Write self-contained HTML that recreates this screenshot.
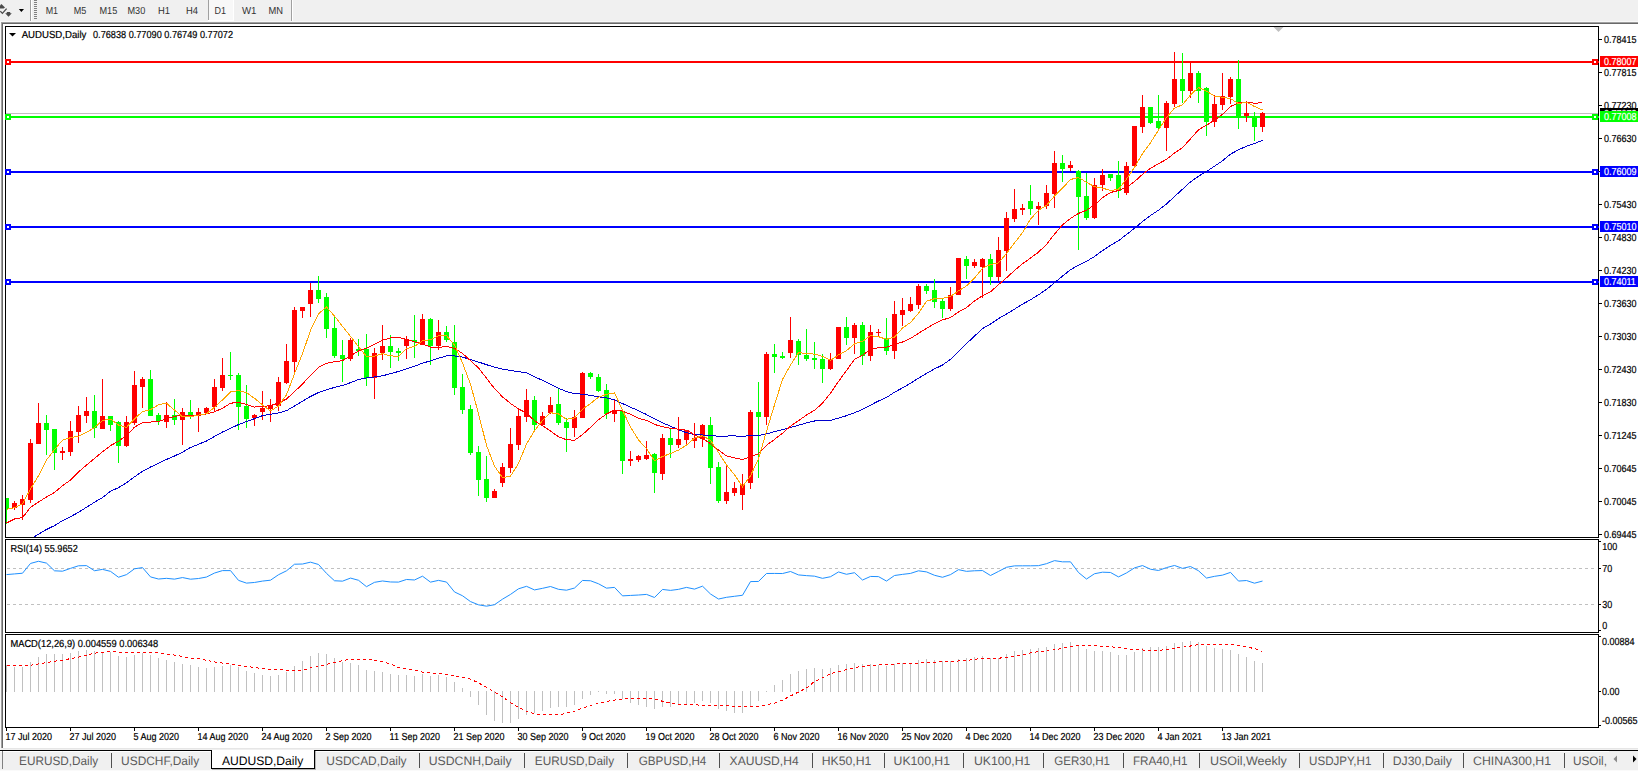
<!DOCTYPE html>
<html><head><meta charset="utf-8"><style>
html,body{margin:0;padding:0;width:1638px;height:771px;overflow:hidden;background:#f0f0f0;}
svg{position:absolute;left:0;top:0;display:block}
text{font-family:"Liberation Sans", sans-serif;text-rendering:geometricPrecision;}

</style></head><body>
<svg width="1638" height="771" viewBox="0 0 1638 771">
<rect x="0" y="0" width="1638" height="771" fill="#f0f0f0"/>
<rect x="3" y="24" width="1635" height="724" fill="#ffffff"/>
<rect x="0" y="21" width="1638" height="1" fill="#f8f8f8"/>
<rect x="1" y="22" width="1637" height="1" fill="#a0a0a0"/>
<rect x="2" y="23" width="1636" height="1" fill="#696969"/>
<rect x="0" y="22" width="1" height="749" fill="#f8f8f8"/>
<rect x="1" y="22" width="1" height="726" fill="#a0a0a0"/>
<rect x="2" y="23" width="1" height="725" fill="#696969"/>
<path d="M0,5.6 L1.4,4 L5,7.6 L3.6,8.6 L0,8.6 Z" fill="#4a4a4a"/>
<path d="M0.3,11.2 L2.4,13.4 L6.6,8.6" fill="none" stroke="#4a4a4a" stroke-width="1.3"/>
<path d="M5.2,13.2 L11.8,13.2 L8.5,16.8 Z M6.8,12 L10.2,12 L10.2,13.5 L6.8,13.5Z" fill="#4a4a4a"/>
<path d="M18.8,9 L24,9 L21.4,12 Z" fill="#000"/>
<rect x="30" y="0" width="1" height="21" fill="#a0a0a0"/>
<rect x="31" y="0" width="1" height="21" fill="#ffffff"/>
<rect x="34" y="0" width="3" height="1" fill="#808080"/>
<rect x="34" y="2" width="3" height="1" fill="#808080"/>
<rect x="34" y="4" width="3" height="1" fill="#808080"/>
<rect x="34" y="6" width="3" height="1" fill="#808080"/>
<rect x="34" y="8" width="3" height="1" fill="#808080"/>
<rect x="34" y="10" width="3" height="1" fill="#808080"/>
<rect x="34" y="12" width="3" height="1" fill="#808080"/>
<rect x="34" y="14" width="3" height="1" fill="#808080"/>
<rect x="34" y="16" width="3" height="1" fill="#808080"/>
<rect x="34" y="18" width="3" height="1" fill="#808080"/>
<rect x="209" y="0" width="24" height="20" fill="#f8f8f8"/>
<rect x="208" y="0" width="1" height="20" fill="#a0a0a0"/>
<rect x="233" y="0" width="1" height="21" fill="#ffffff"/>
<rect x="208" y="20" width="26" height="1" fill="#ffffff"/>
<rect x="291" y="0" width="1" height="21" fill="#a0a0a0"/>
<rect x="292" y="0" width="1" height="21" fill="#ffffff"/>
<text x="45.7" y="14" font-size="10.2" fill="#333" text-anchor="start" textLength="12.4" lengthAdjust="spacingAndGlyphs">M1</text>
<text x="73.8" y="14" font-size="10.2" fill="#333" text-anchor="start" textLength="12.6" lengthAdjust="spacingAndGlyphs">M5</text>
<text x="99.5" y="14" font-size="10.2" fill="#333" text-anchor="start" textLength="17.8" lengthAdjust="spacingAndGlyphs">M15</text>
<text x="127.5" y="14" font-size="10.2" fill="#333" text-anchor="start" textLength="17.8" lengthAdjust="spacingAndGlyphs">M30</text>
<text x="158" y="14" font-size="10.2" fill="#333" text-anchor="start" textLength="12" lengthAdjust="spacingAndGlyphs">H1</text>
<text x="186" y="14" font-size="10.2" fill="#333" text-anchor="start" textLength="12" lengthAdjust="spacingAndGlyphs">H4</text>
<text x="214.5" y="14" font-size="10.2" fill="#333" text-anchor="start" textLength="11.5" lengthAdjust="spacingAndGlyphs">D1</text>
<text x="242" y="14" font-size="10.2" fill="#333" text-anchor="start" textLength="14.5" lengthAdjust="spacingAndGlyphs">W1</text>
<text x="268.5" y="14" font-size="10.2" fill="#333" text-anchor="start" textLength="14.5" lengthAdjust="spacingAndGlyphs">MN</text>
<rect x="5" y="26" width="1594" height="1" fill="#000"/>
<rect x="5" y="537" width="1594" height="1" fill="#000"/>
<rect x="5" y="26" width="1" height="512" fill="#000"/>
<rect x="1598" y="26" width="1" height="512" fill="#000"/>
<rect x="5" y="539" width="1594" height="1" fill="#000"/>
<rect x="5" y="632" width="1594" height="1" fill="#000"/>
<rect x="5" y="539" width="1" height="94" fill="#000"/>
<rect x="1598" y="539" width="1" height="94" fill="#000"/>
<rect x="5" y="634" width="1594" height="1" fill="#000"/>
<rect x="5" y="727" width="1594" height="1" fill="#000"/>
<rect x="5" y="634" width="1" height="94" fill="#000"/>
<rect x="1598" y="634" width="1" height="94" fill="#000"/>
<path d="M1273.5,27 L1283.5,27 L1278.5,32 Z" fill="#c0c0c0"/>
<defs><clipPath id="cm"><rect x="6" y="27" width="1592" height="510"/></clipPath><clipPath id="cr"><rect x="6" y="540" width="1592" height="92"/></clipPath><clipPath id="cd"><rect x="6" y="635" width="1592" height="92"/></clipPath></defs>
<g clip-path="url(#cm)" shape-rendering="crispEdges">
<rect x="6" y="113" width="1592" height="1" fill="#c0c0c0"/>
<rect x="6" y="61" width="1592" height="2" fill="#ff0000"/>
<rect x="6" y="116" width="1592" height="2" fill="#00ff00"/>
<rect x="6" y="171" width="1592" height="2" fill="#0000ff"/>
<rect x="6" y="226" width="1592" height="2" fill="#0000ff"/>
<rect x="6" y="281" width="1592" height="2" fill="#0000ff"/>
<rect x="6" y="498" width="1" height="26" fill="#00ff00"/>
<rect x="4" y="498" width="5" height="11" fill="#00ff00"/>
<rect x="14" y="501" width="1" height="9" fill="#ff0000"/>
<rect x="12" y="503" width="5" height="5" fill="#ff0000"/>
<rect x="22" y="495" width="1" height="25" fill="#ff0000"/>
<rect x="20" y="499" width="5" height="6" fill="#ff0000"/>
<rect x="30" y="439" width="1" height="64" fill="#ff0000"/>
<rect x="28" y="443" width="5" height="57" fill="#ff0000"/>
<rect x="38" y="403" width="1" height="41" fill="#ff0000"/>
<rect x="36" y="423" width="5" height="21" fill="#ff0000"/>
<rect x="46" y="415" width="1" height="40" fill="#00ff00"/>
<rect x="44" y="423" width="5" height="7" fill="#00ff00"/>
<rect x="54" y="429" width="1" height="41" fill="#00ff00"/>
<rect x="52" y="429" width="5" height="24" fill="#00ff00"/>
<rect x="62" y="447" width="1" height="13" fill="#ff0000"/>
<rect x="60" y="451" width="5" height="2" fill="#ff0000"/>
<rect x="70" y="421" width="1" height="35" fill="#ff0000"/>
<rect x="68" y="431" width="5" height="21" fill="#ff0000"/>
<rect x="78" y="406" width="1" height="37" fill="#ff0000"/>
<rect x="76" y="415" width="5" height="17" fill="#ff0000"/>
<rect x="86" y="397" width="1" height="26" fill="#ff0000"/>
<rect x="84" y="411" width="5" height="5" fill="#ff0000"/>
<rect x="94" y="395" width="1" height="43" fill="#00ff00"/>
<rect x="92" y="411" width="5" height="17" fill="#00ff00"/>
<rect x="102" y="379" width="1" height="50" fill="#ff0000"/>
<rect x="100" y="416" width="5" height="13" fill="#ff0000"/>
<rect x="110" y="416" width="1" height="15" fill="#00ff00"/>
<rect x="108" y="416" width="5" height="9" fill="#00ff00"/>
<rect x="118" y="421" width="1" height="42" fill="#00ff00"/>
<rect x="116" y="422" width="5" height="24" fill="#00ff00"/>
<rect x="126" y="416" width="1" height="31" fill="#ff0000"/>
<rect x="124" y="422" width="5" height="24" fill="#ff0000"/>
<rect x="134" y="371" width="1" height="54" fill="#ff0000"/>
<rect x="132" y="385" width="5" height="38" fill="#ff0000"/>
<rect x="142" y="377" width="1" height="31" fill="#ff0000"/>
<rect x="140" y="379" width="5" height="8" fill="#ff0000"/>
<rect x="150" y="370" width="1" height="46" fill="#00ff00"/>
<rect x="148" y="379" width="5" height="37" fill="#00ff00"/>
<rect x="158" y="413" width="1" height="12" fill="#00ff00"/>
<rect x="156" y="415" width="5" height="6" fill="#00ff00"/>
<rect x="166" y="402" width="1" height="26" fill="#ff0000"/>
<rect x="164" y="415" width="5" height="7" fill="#ff0000"/>
<rect x="174" y="399" width="1" height="26" fill="#00ff00"/>
<rect x="172" y="415" width="5" height="5" fill="#00ff00"/>
<rect x="182" y="408" width="1" height="37" fill="#ff0000"/>
<rect x="180" y="412" width="5" height="8" fill="#ff0000"/>
<rect x="190" y="400" width="1" height="19" fill="#00ff00"/>
<rect x="188" y="412" width="5" height="4" fill="#00ff00"/>
<rect x="198" y="408" width="1" height="24" fill="#ff0000"/>
<rect x="196" y="412" width="5" height="4" fill="#ff0000"/>
<rect x="206" y="407" width="1" height="6" fill="#ff0000"/>
<rect x="204" y="408" width="5" height="5" fill="#ff0000"/>
<rect x="214" y="379" width="1" height="33" fill="#ff0000"/>
<rect x="212" y="387" width="5" height="20" fill="#ff0000"/>
<rect x="222" y="358" width="1" height="33" fill="#ff0000"/>
<rect x="220" y="375" width="5" height="13" fill="#ff0000"/>
<rect x="230" y="352" width="1" height="28" fill="#00ff00"/>
<rect x="228" y="375" width="5" height="1" fill="#00ff00"/>
<rect x="238" y="373" width="1" height="57" fill="#00ff00"/>
<rect x="236" y="375" width="5" height="32" fill="#00ff00"/>
<rect x="246" y="385" width="1" height="43" fill="#00ff00"/>
<rect x="244" y="406" width="5" height="13" fill="#00ff00"/>
<rect x="254" y="414" width="1" height="12" fill="#ff0000"/>
<rect x="252" y="415" width="5" height="3" fill="#ff0000"/>
<rect x="262" y="391" width="1" height="29" fill="#ff0000"/>
<rect x="260" y="408" width="5" height="4" fill="#ff0000"/>
<rect x="270" y="399" width="1" height="23" fill="#ff0000"/>
<rect x="268" y="405" width="5" height="4" fill="#ff0000"/>
<rect x="278" y="377" width="1" height="34" fill="#ff0000"/>
<rect x="276" y="382" width="5" height="24" fill="#ff0000"/>
<rect x="286" y="344" width="1" height="40" fill="#ff0000"/>
<rect x="284" y="361" width="5" height="22" fill="#ff0000"/>
<rect x="294" y="307" width="1" height="65" fill="#ff0000"/>
<rect x="292" y="310" width="5" height="52" fill="#ff0000"/>
<rect x="302" y="307" width="1" height="11" fill="#ff0000"/>
<rect x="300" y="307" width="5" height="4" fill="#ff0000"/>
<rect x="310" y="283" width="1" height="34" fill="#ff0000"/>
<rect x="308" y="290" width="5" height="14" fill="#ff0000"/>
<rect x="318" y="276" width="1" height="27" fill="#00ff00"/>
<rect x="316" y="290" width="5" height="9" fill="#00ff00"/>
<rect x="326" y="293" width="1" height="45" fill="#00ff00"/>
<rect x="324" y="297" width="5" height="32" fill="#00ff00"/>
<rect x="334" y="317" width="1" height="41" fill="#00ff00"/>
<rect x="332" y="328" width="5" height="28" fill="#00ff00"/>
<rect x="342" y="340" width="1" height="42" fill="#00ff00"/>
<rect x="340" y="355" width="5" height="4" fill="#00ff00"/>
<rect x="350" y="338" width="1" height="23" fill="#ff0000"/>
<rect x="348" y="340" width="5" height="19" fill="#ff0000"/>
<rect x="358" y="339" width="1" height="17" fill="#00ff00"/>
<rect x="356" y="349" width="5" height="2" fill="#00ff00"/>
<rect x="366" y="334" width="1" height="52" fill="#00ff00"/>
<rect x="364" y="349" width="5" height="29" fill="#00ff00"/>
<rect x="374" y="348" width="1" height="51" fill="#ff0000"/>
<rect x="372" y="353" width="5" height="25" fill="#ff0000"/>
<rect x="382" y="325" width="1" height="35" fill="#ff0000"/>
<rect x="380" y="346" width="5" height="7" fill="#ff0000"/>
<rect x="390" y="335" width="1" height="33" fill="#00ff00"/>
<rect x="388" y="346" width="5" height="6" fill="#00ff00"/>
<rect x="398" y="348" width="1" height="13" fill="#00ff00"/>
<rect x="396" y="351" width="5" height="2" fill="#00ff00"/>
<rect x="406" y="336" width="1" height="23" fill="#ff0000"/>
<rect x="404" y="339" width="5" height="7" fill="#ff0000"/>
<rect x="414" y="315" width="1" height="43" fill="#00ff00"/>
<rect x="412" y="340" width="5" height="2" fill="#00ff00"/>
<rect x="422" y="314" width="1" height="31" fill="#ff0000"/>
<rect x="420" y="319" width="5" height="26" fill="#ff0000"/>
<rect x="430" y="318" width="1" height="47" fill="#00ff00"/>
<rect x="428" y="319" width="5" height="27" fill="#00ff00"/>
<rect x="438" y="320" width="1" height="30" fill="#ff0000"/>
<rect x="436" y="332" width="5" height="14" fill="#ff0000"/>
<rect x="446" y="326" width="1" height="16" fill="#00ff00"/>
<rect x="444" y="332" width="5" height="8" fill="#00ff00"/>
<rect x="454" y="325" width="1" height="70" fill="#00ff00"/>
<rect x="452" y="342" width="5" height="46" fill="#00ff00"/>
<rect x="462" y="374" width="1" height="40" fill="#00ff00"/>
<rect x="460" y="387" width="5" height="23" fill="#00ff00"/>
<rect x="470" y="405" width="1" height="50" fill="#00ff00"/>
<rect x="468" y="409" width="5" height="44" fill="#00ff00"/>
<rect x="478" y="446" width="1" height="50" fill="#00ff00"/>
<rect x="476" y="452" width="5" height="28" fill="#00ff00"/>
<rect x="486" y="456" width="1" height="46" fill="#00ff00"/>
<rect x="484" y="479" width="5" height="19" fill="#00ff00"/>
<rect x="494" y="489" width="1" height="9" fill="#ff0000"/>
<rect x="492" y="491" width="5" height="7" fill="#ff0000"/>
<rect x="502" y="463" width="1" height="24" fill="#ff0000"/>
<rect x="500" y="467" width="5" height="16" fill="#ff0000"/>
<rect x="510" y="428" width="1" height="45" fill="#ff0000"/>
<rect x="508" y="444" width="5" height="24" fill="#ff0000"/>
<rect x="518" y="409" width="1" height="41" fill="#ff0000"/>
<rect x="516" y="416" width="5" height="29" fill="#ff0000"/>
<rect x="526" y="389" width="1" height="33" fill="#ff0000"/>
<rect x="524" y="400" width="5" height="17" fill="#ff0000"/>
<rect x="534" y="396" width="1" height="36" fill="#00ff00"/>
<rect x="532" y="400" width="5" height="25" fill="#00ff00"/>
<rect x="542" y="412" width="1" height="13" fill="#ff0000"/>
<rect x="540" y="416" width="5" height="9" fill="#ff0000"/>
<rect x="550" y="397" width="1" height="17" fill="#ff0000"/>
<rect x="548" y="405" width="5" height="8" fill="#ff0000"/>
<rect x="558" y="389" width="1" height="36" fill="#00ff00"/>
<rect x="556" y="404" width="5" height="19" fill="#00ff00"/>
<rect x="566" y="418" width="1" height="34" fill="#00ff00"/>
<rect x="564" y="422" width="5" height="6" fill="#00ff00"/>
<rect x="574" y="410" width="1" height="27" fill="#ff0000"/>
<rect x="572" y="417" width="5" height="11" fill="#ff0000"/>
<rect x="582" y="372" width="1" height="46" fill="#ff0000"/>
<rect x="580" y="373" width="5" height="45" fill="#ff0000"/>
<rect x="590" y="372" width="1" height="7" fill="#00ff00"/>
<rect x="588" y="373" width="5" height="4" fill="#00ff00"/>
<rect x="598" y="374" width="1" height="18" fill="#00ff00"/>
<rect x="596" y="377" width="5" height="14" fill="#00ff00"/>
<rect x="606" y="384" width="1" height="35" fill="#00ff00"/>
<rect x="604" y="390" width="5" height="24" fill="#00ff00"/>
<rect x="614" y="400" width="1" height="22" fill="#ff0000"/>
<rect x="612" y="410" width="5" height="4" fill="#ff0000"/>
<rect x="622" y="411" width="1" height="63" fill="#00ff00"/>
<rect x="620" y="411" width="5" height="50" fill="#00ff00"/>
<rect x="630" y="451" width="1" height="15" fill="#ff0000"/>
<rect x="628" y="459" width="5" height="2" fill="#ff0000"/>
<rect x="638" y="455" width="1" height="7" fill="#ff0000"/>
<rect x="636" y="456" width="5" height="4" fill="#ff0000"/>
<rect x="646" y="441" width="1" height="19" fill="#ff0000"/>
<rect x="644" y="455" width="5" height="4" fill="#ff0000"/>
<rect x="654" y="453" width="1" height="40" fill="#00ff00"/>
<rect x="652" y="454" width="5" height="19" fill="#00ff00"/>
<rect x="662" y="434" width="1" height="46" fill="#ff0000"/>
<rect x="660" y="438" width="5" height="36" fill="#ff0000"/>
<rect x="670" y="429" width="1" height="29" fill="#00ff00"/>
<rect x="668" y="438" width="5" height="7" fill="#00ff00"/>
<rect x="678" y="417" width="1" height="31" fill="#ff0000"/>
<rect x="676" y="439" width="5" height="6" fill="#ff0000"/>
<rect x="686" y="430" width="1" height="15" fill="#ff0000"/>
<rect x="684" y="430" width="5" height="10" fill="#ff0000"/>
<rect x="694" y="423" width="1" height="25" fill="#ff0000"/>
<rect x="692" y="438" width="5" height="3" fill="#ff0000"/>
<rect x="702" y="424" width="1" height="23" fill="#ff0000"/>
<rect x="700" y="425" width="5" height="14" fill="#ff0000"/>
<rect x="710" y="417" width="1" height="67" fill="#00ff00"/>
<rect x="708" y="425" width="5" height="43" fill="#00ff00"/>
<rect x="718" y="462" width="1" height="41" fill="#00ff00"/>
<rect x="716" y="467" width="5" height="34" fill="#00ff00"/>
<rect x="726" y="465" width="1" height="39" fill="#ff0000"/>
<rect x="724" y="492" width="5" height="9" fill="#ff0000"/>
<rect x="734" y="482" width="1" height="14" fill="#ff0000"/>
<rect x="732" y="488" width="5" height="5" fill="#ff0000"/>
<rect x="742" y="474" width="1" height="36" fill="#ff0000"/>
<rect x="740" y="484" width="5" height="11" fill="#ff0000"/>
<rect x="750" y="410" width="1" height="79" fill="#ff0000"/>
<rect x="748" y="412" width="5" height="71" fill="#ff0000"/>
<rect x="758" y="382" width="1" height="96" fill="#00ff00"/>
<rect x="756" y="412" width="5" height="5" fill="#00ff00"/>
<rect x="766" y="352" width="1" height="73" fill="#ff0000"/>
<rect x="764" y="354" width="5" height="63" fill="#ff0000"/>
<rect x="774" y="344" width="1" height="29" fill="#00ff00"/>
<rect x="772" y="354" width="5" height="3" fill="#00ff00"/>
<rect x="782" y="352" width="1" height="7" fill="#00ff00"/>
<rect x="780" y="356" width="5" height="2" fill="#00ff00"/>
<rect x="790" y="317" width="1" height="41" fill="#ff0000"/>
<rect x="788" y="340" width="5" height="13" fill="#ff0000"/>
<rect x="798" y="339" width="1" height="26" fill="#00ff00"/>
<rect x="796" y="341" width="5" height="14" fill="#00ff00"/>
<rect x="806" y="329" width="1" height="32" fill="#00ff00"/>
<rect x="804" y="355" width="5" height="4" fill="#00ff00"/>
<rect x="814" y="342" width="1" height="27" fill="#00ff00"/>
<rect x="812" y="358" width="5" height="2" fill="#00ff00"/>
<rect x="822" y="354" width="1" height="29" fill="#00ff00"/>
<rect x="820" y="359" width="5" height="10" fill="#00ff00"/>
<rect x="830" y="353" width="1" height="17" fill="#ff0000"/>
<rect x="828" y="360" width="5" height="9" fill="#ff0000"/>
<rect x="838" y="327" width="1" height="32" fill="#ff0000"/>
<rect x="836" y="327" width="5" height="32" fill="#ff0000"/>
<rect x="846" y="317" width="1" height="28" fill="#00ff00"/>
<rect x="844" y="327" width="5" height="11" fill="#00ff00"/>
<rect x="854" y="323" width="1" height="31" fill="#ff0000"/>
<rect x="852" y="325" width="5" height="13" fill="#ff0000"/>
<rect x="862" y="322" width="1" height="43" fill="#00ff00"/>
<rect x="860" y="325" width="5" height="31" fill="#00ff00"/>
<rect x="870" y="325" width="1" height="36" fill="#ff0000"/>
<rect x="868" y="332" width="5" height="24" fill="#ff0000"/>
<rect x="878" y="329" width="1" height="7" fill="#ff0000"/>
<rect x="876" y="332" width="5" height="1" fill="#ff0000"/>
<rect x="886" y="318" width="1" height="37" fill="#00ff00"/>
<rect x="884" y="338" width="5" height="13" fill="#00ff00"/>
<rect x="894" y="301" width="1" height="58" fill="#ff0000"/>
<rect x="892" y="314" width="5" height="37" fill="#ff0000"/>
<rect x="902" y="298" width="1" height="28" fill="#ff0000"/>
<rect x="900" y="310" width="5" height="5" fill="#ff0000"/>
<rect x="910" y="297" width="1" height="15" fill="#ff0000"/>
<rect x="908" y="304" width="5" height="7" fill="#ff0000"/>
<rect x="918" y="284" width="1" height="25" fill="#ff0000"/>
<rect x="916" y="286" width="5" height="19" fill="#ff0000"/>
<rect x="926" y="284" width="1" height="10" fill="#00ff00"/>
<rect x="924" y="286" width="5" height="5" fill="#00ff00"/>
<rect x="934" y="279" width="1" height="29" fill="#00ff00"/>
<rect x="932" y="290" width="5" height="12" fill="#00ff00"/>
<rect x="942" y="298" width="1" height="20" fill="#00ff00"/>
<rect x="940" y="301" width="5" height="8" fill="#00ff00"/>
<rect x="950" y="287" width="1" height="24" fill="#ff0000"/>
<rect x="948" y="295" width="5" height="14" fill="#ff0000"/>
<rect x="958" y="258" width="1" height="37" fill="#ff0000"/>
<rect x="956" y="258" width="5" height="37" fill="#ff0000"/>
<rect x="966" y="256" width="1" height="23" fill="#00ff00"/>
<rect x="964" y="259" width="5" height="7" fill="#00ff00"/>
<rect x="974" y="259" width="1" height="9" fill="#ff0000"/>
<rect x="972" y="262" width="5" height="4" fill="#ff0000"/>
<rect x="982" y="258" width="1" height="40" fill="#ff0000"/>
<rect x="980" y="259" width="5" height="8" fill="#ff0000"/>
<rect x="990" y="254" width="1" height="31" fill="#00ff00"/>
<rect x="988" y="259" width="5" height="18" fill="#00ff00"/>
<rect x="998" y="237" width="1" height="44" fill="#ff0000"/>
<rect x="996" y="250" width="5" height="27" fill="#ff0000"/>
<rect x="1006" y="212" width="1" height="59" fill="#ff0000"/>
<rect x="1004" y="218" width="5" height="33" fill="#ff0000"/>
<rect x="1014" y="189" width="1" height="33" fill="#ff0000"/>
<rect x="1012" y="209" width="5" height="10" fill="#ff0000"/>
<rect x="1022" y="204" width="1" height="11" fill="#ff0000"/>
<rect x="1020" y="208" width="5" height="2" fill="#ff0000"/>
<rect x="1030" y="185" width="1" height="30" fill="#00ff00"/>
<rect x="1028" y="201" width="5" height="8" fill="#00ff00"/>
<rect x="1038" y="202" width="1" height="23" fill="#ff0000"/>
<rect x="1036" y="206" width="5" height="3" fill="#ff0000"/>
<rect x="1046" y="185" width="1" height="24" fill="#ff0000"/>
<rect x="1044" y="193" width="5" height="13" fill="#ff0000"/>
<rect x="1054" y="151" width="1" height="57" fill="#ff0000"/>
<rect x="1052" y="163" width="5" height="31" fill="#ff0000"/>
<rect x="1062" y="155" width="1" height="27" fill="#00ff00"/>
<rect x="1060" y="163" width="5" height="6" fill="#00ff00"/>
<rect x="1070" y="161" width="1" height="10" fill="#ff0000"/>
<rect x="1068" y="165" width="5" height="3" fill="#ff0000"/>
<rect x="1078" y="170" width="1" height="80" fill="#00ff00"/>
<rect x="1076" y="171" width="5" height="26" fill="#00ff00"/>
<rect x="1086" y="173" width="1" height="47" fill="#00ff00"/>
<rect x="1084" y="196" width="5" height="22" fill="#00ff00"/>
<rect x="1094" y="178" width="1" height="41" fill="#ff0000"/>
<rect x="1092" y="185" width="5" height="33" fill="#ff0000"/>
<rect x="1102" y="169" width="1" height="22" fill="#ff0000"/>
<rect x="1100" y="175" width="5" height="10" fill="#ff0000"/>
<rect x="1110" y="174" width="1" height="7" fill="#00ff00"/>
<rect x="1108" y="174" width="5" height="4" fill="#00ff00"/>
<rect x="1118" y="161" width="1" height="37" fill="#00ff00"/>
<rect x="1116" y="175" width="5" height="16" fill="#00ff00"/>
<rect x="1126" y="162" width="1" height="33" fill="#ff0000"/>
<rect x="1124" y="166" width="5" height="27" fill="#ff0000"/>
<rect x="1134" y="126" width="1" height="42" fill="#ff0000"/>
<rect x="1132" y="126" width="5" height="40" fill="#ff0000"/>
<rect x="1142" y="95" width="1" height="38" fill="#ff0000"/>
<rect x="1140" y="107" width="5" height="20" fill="#ff0000"/>
<rect x="1150" y="107" width="1" height="17" fill="#00ff00"/>
<rect x="1148" y="107" width="5" height="16" fill="#00ff00"/>
<rect x="1158" y="95" width="1" height="34" fill="#00ff00"/>
<rect x="1156" y="121" width="5" height="7" fill="#00ff00"/>
<rect x="1166" y="101" width="1" height="50" fill="#ff0000"/>
<rect x="1164" y="103" width="5" height="25" fill="#ff0000"/>
<rect x="1174" y="52" width="1" height="55" fill="#ff0000"/>
<rect x="1172" y="79" width="5" height="25" fill="#ff0000"/>
<rect x="1182" y="53" width="1" height="50" fill="#00ff00"/>
<rect x="1180" y="79" width="5" height="12" fill="#00ff00"/>
<rect x="1190" y="62" width="1" height="36" fill="#ff0000"/>
<rect x="1188" y="73" width="5" height="18" fill="#ff0000"/>
<rect x="1198" y="71" width="1" height="32" fill="#00ff00"/>
<rect x="1196" y="73" width="5" height="18" fill="#00ff00"/>
<rect x="1206" y="87" width="1" height="49" fill="#00ff00"/>
<rect x="1204" y="88" width="5" height="34" fill="#00ff00"/>
<rect x="1214" y="95" width="1" height="32" fill="#ff0000"/>
<rect x="1212" y="104" width="5" height="18" fill="#ff0000"/>
<rect x="1222" y="73" width="1" height="37" fill="#ff0000"/>
<rect x="1220" y="96" width="5" height="9" fill="#ff0000"/>
<rect x="1230" y="77" width="1" height="27" fill="#ff0000"/>
<rect x="1228" y="79" width="5" height="18" fill="#ff0000"/>
<rect x="1238" y="60" width="1" height="69" fill="#00ff00"/>
<rect x="1236" y="79" width="5" height="38" fill="#00ff00"/>
<rect x="1246" y="102" width="1" height="20" fill="#ff0000"/>
<rect x="1244" y="113" width="5" height="3" fill="#ff0000"/>
<rect x="1254" y="112" width="1" height="29" fill="#00ff00"/>
<rect x="1252" y="116" width="5" height="11" fill="#00ff00"/>
<rect x="1262" y="112" width="1" height="20" fill="#ff0000"/>
<rect x="1260" y="113" width="5" height="14" fill="#ff0000"/>
<polyline points="34.5,536.60 38.5,534.23 46.5,529.50 54.5,525.60 62.5,520.70 70.5,516.64 78.5,512.36 86.5,507.27 94.5,502.22 102.5,497.54 110.5,491.29 118.5,487.62 126.5,482.86 134.5,476.87 142.5,471.21 150.5,467.06 158.5,463.36 166.5,459.40 174.5,455.97 182.5,452.22 190.5,447.50 198.5,444.25 206.5,441.00 214.5,436.50 222.5,432.00 230.5,428.30 238.5,424.57 246.5,421.57 254.5,418.63 262.5,415.60 270.5,414.33 278.5,412.97 286.5,410.70 294.5,405.97 302.5,401.17 310.5,396.47 318.5,392.57 326.5,389.80 334.5,387.40 342.5,385.47 350.5,382.67 358.5,379.50 366.5,378.00 374.5,376.93 382.5,375.83 390.5,373.70 398.5,371.43 406.5,368.90 414.5,366.30 422.5,363.20 430.5,360.87 438.5,358.20 446.5,355.90 454.5,355.90 462.5,357.03 470.5,359.60 478.5,362.03 486.5,364.67 494.5,367.20 502.5,369.17 510.5,370.47 518.5,371.60 526.5,372.90 534.5,376.70 542.5,380.33 550.5,384.17 558.5,388.30 566.5,391.60 574.5,393.67 582.5,394.17 590.5,395.37 598.5,396.70 606.5,397.90 614.5,399.80 622.5,403.60 630.5,407.20 638.5,410.67 646.5,414.53 654.5,418.90 662.5,422.87 670.5,426.17 678.5,429.73 686.5,432.77 694.5,434.47 702.5,435.00 710.5,435.50 718.5,436.20 726.5,436.03 734.5,435.93 742.5,436.50 750.5,435.43 758.5,435.43 766.5,433.90 774.5,431.63 782.5,429.67 790.5,427.50 798.5,425.23 806.5,422.93 814.5,421.00 822.5,420.83 830.5,420.30 838.5,418.20 846.5,415.67 854.5,412.83 862.5,409.33 870.5,405.10 878.5,400.97 886.5,397.47 894.5,392.20 902.5,387.93 910.5,383.27 918.5,378.17 926.5,373.50 934.5,368.93 942.5,365.03 950.5,359.30 958.5,351.23 966.5,343.67 974.5,336.13 982.5,328.63 990.5,324.10 998.5,318.57 1006.5,314.03 1014.5,309.13 1022.5,304.17 1030.5,299.77 1038.5,294.83 1046.5,289.33 1054.5,282.80 1062.5,276.13 1070.5,269.63 1078.5,265.27 1086.5,261.27 1094.5,256.60 1102.5,250.60 1110.5,245.43 1118.5,240.70 1126.5,234.57 1134.5,228.30 1142.5,221.53 1150.5,215.47 1158.5,210.17 1166.5,203.93 1174.5,196.53 1182.5,189.27 1190.5,181.87 1198.5,176.27 1206.5,171.47 1214.5,166.20 1222.5,160.77 1230.5,154.20 1238.5,149.73 1246.5,146.23 1254.5,143.47 1262.5,140.30" fill="none" stroke="#0000cd" stroke-width="1"/>
<polyline points="6.5,523.00 14.5,519.00 22.5,517.60 30.5,507.40 38.5,502.00 46.5,497.00 54.5,492.50 62.5,485.79 70.5,480.00 78.5,472.00 86.5,465.10 94.5,458.38 102.5,451.85 110.5,445.64 118.5,441.14 126.5,435.36 134.5,427.21 142.5,422.64 150.5,422.07 158.5,421.43 166.5,418.79 174.5,416.50 182.5,415.14 190.5,415.14 198.5,415.21 206.5,413.86 214.5,411.79 222.5,408.29 230.5,403.29 238.5,402.14 246.5,404.50 254.5,407.07 262.5,406.57 270.5,405.50 278.5,403.14 286.5,399.00 294.5,391.71 302.5,384.00 310.5,375.29 318.5,367.43 326.5,363.21 334.5,361.79 342.5,360.57 350.5,355.86 358.5,351.00 366.5,348.29 374.5,344.36 382.5,340.14 390.5,337.93 398.5,337.29 406.5,339.36 414.5,341.79 422.5,343.86 430.5,347.21 438.5,347.50 446.5,346.36 454.5,348.43 462.5,353.36 470.5,360.64 478.5,367.93 486.5,378.21 494.5,388.57 502.5,396.86 510.5,403.43 518.5,408.93 526.5,413.14 534.5,420.64 542.5,425.71 550.5,430.93 558.5,436.86 566.5,439.71 574.5,440.29 582.5,434.64 590.5,427.29 598.5,419.64 606.5,414.07 614.5,410.00 622.5,411.14 630.5,414.21 638.5,418.21 646.5,420.43 654.5,424.43 662.5,426.79 670.5,428.36 678.5,429.21 686.5,430.14 694.5,434.79 702.5,438.29 710.5,443.79 718.5,450.00 726.5,455.86 734.5,457.86 742.5,459.64 750.5,456.50 758.5,453.71 766.5,445.29 774.5,439.43 782.5,433.21 790.5,426.14 798.5,420.71 806.5,415.00 814.5,410.29 822.5,403.21 830.5,393.21 838.5,381.43 846.5,370.64 854.5,359.29 862.5,355.21 870.5,349.21 878.5,347.64 886.5,347.21 894.5,344.14 902.5,342.00 910.5,338.43 918.5,333.29 926.5,328.36 934.5,323.57 942.5,319.86 950.5,317.57 958.5,311.93 966.5,307.64 974.5,301.00 982.5,295.79 990.5,291.79 998.5,284.64 1006.5,277.79 1014.5,270.57 1022.5,263.71 1030.5,258.14 1038.5,252.14 1046.5,244.43 1054.5,234.07 1062.5,225.00 1070.5,218.36 1078.5,213.43 1086.5,210.21 1094.5,204.93 1102.5,197.71 1110.5,192.50 1118.5,190.50 1126.5,187.43 1134.5,181.57 1142.5,174.36 1150.5,168.36 1158.5,163.64 1166.5,159.36 1174.5,153.00 1182.5,147.64 1190.5,138.86 1198.5,129.79 1206.5,125.21 1214.5,120.14 1222.5,114.36 1230.5,106.43 1238.5,102.86 1246.5,101.93 1254.5,103.29 1262.5,102.64" fill="none" stroke="#ff0000" stroke-width="1"/>
<polyline points="6.5,509.40 14.5,507.70 22.5,503.60 30.5,489.00 38.5,475.70 46.5,459.90 54.5,449.70 62.5,440.10 70.5,437.70 78.5,436.10 86.5,432.50 94.5,427.50 102.5,420.50 110.5,419.10 118.5,425.10 126.5,427.30 134.5,418.90 142.5,411.50 150.5,409.70 158.5,404.70 166.5,403.30 174.5,410.10 182.5,416.70 190.5,416.70 198.5,415.10 206.5,413.70 214.5,407.30 222.5,399.90 230.5,391.90 238.5,390.70 246.5,392.70 254.5,398.30 262.5,404.90 270.5,410.90 278.5,406.10 286.5,394.70 294.5,373.70 302.5,353.50 310.5,330.50 318.5,313.70 326.5,307.10 334.5,316.10 342.5,326.30 350.5,336.30 358.5,346.70 366.5,356.50 374.5,356.10 382.5,353.70 390.5,355.90 398.5,356.30 406.5,348.70 414.5,346.30 422.5,340.90 430.5,339.70 438.5,335.70 446.5,335.70 454.5,344.90 462.5,362.90 470.5,384.30 478.5,413.70 486.5,445.30 494.5,466.10 502.5,477.70 510.5,476.10 518.5,463.50 526.5,444.10 534.5,430.70 542.5,420.50 550.5,412.70 558.5,413.90 566.5,419.30 574.5,417.90 582.5,409.30 590.5,403.50 598.5,397.10 606.5,394.30 614.5,392.90 622.5,410.30 630.5,426.90 638.5,440.10 646.5,448.50 654.5,460.90 662.5,456.50 670.5,453.50 678.5,450.10 686.5,445.10 694.5,438.30 702.5,435.70 710.5,440.30 718.5,452.50 726.5,464.90 734.5,474.90 742.5,486.70 750.5,475.70 758.5,458.90 766.5,431.30 774.5,404.90 782.5,379.50 790.5,365.10 798.5,352.70 806.5,353.50 814.5,354.10 822.5,356.30 830.5,360.30 838.5,354.90 846.5,350.70 854.5,343.90 862.5,341.30 870.5,335.70 878.5,336.70 886.5,339.30 894.5,337.10 902.5,328.10 910.5,322.50 918.5,313.30 926.5,301.30 934.5,298.70 942.5,298.30 950.5,296.50 958.5,290.90 966.5,285.90 974.5,278.10 982.5,268.30 990.5,264.50 998.5,262.90 1006.5,253.50 1014.5,242.90 1022.5,232.70 1030.5,219.10 1038.5,210.30 1046.5,205.30 1054.5,196.10 1062.5,188.10 1070.5,179.50 1078.5,177.50 1086.5,182.30 1094.5,186.70 1102.5,188.10 1110.5,190.50 1118.5,189.30 1126.5,179.10 1134.5,167.30 1142.5,153.70 1150.5,142.70 1158.5,130.10 1166.5,117.50 1174.5,108.10 1182.5,104.70 1190.5,94.90 1198.5,87.50 1206.5,91.10 1214.5,96.10 1222.5,97.30 1230.5,98.50 1238.5,103.70 1246.5,102.10 1254.5,106.50 1262.5,109.90" fill="none" stroke="#ffa500" stroke-width="1"/>
</g>
<rect x="5" y="59" width="6" height="6" fill="#ff0000"/>
<rect x="7" y="61" width="2" height="2" fill="#ffffff"/>
<rect x="1592" y="59" width="6" height="6" fill="#ff0000"/>
<rect x="1594" y="61" width="2" height="2" fill="#ffffff"/>
<rect x="1598" y="61" width="1" height="2" fill="#ff0000"/>
<rect x="5" y="114" width="6" height="6" fill="#00ff00"/>
<rect x="7" y="116" width="2" height="2" fill="#ffffff"/>
<rect x="1592" y="114" width="6" height="6" fill="#00ff00"/>
<rect x="1594" y="116" width="2" height="2" fill="#ffffff"/>
<rect x="1598" y="116" width="1" height="2" fill="#00ff00"/>
<rect x="5" y="169" width="6" height="6" fill="#0000ff"/>
<rect x="7" y="171" width="2" height="2" fill="#ffffff"/>
<rect x="1592" y="169" width="6" height="6" fill="#0000ff"/>
<rect x="1594" y="171" width="2" height="2" fill="#ffffff"/>
<rect x="1598" y="171" width="1" height="2" fill="#0000ff"/>
<rect x="5" y="224" width="6" height="6" fill="#0000ff"/>
<rect x="7" y="226" width="2" height="2" fill="#ffffff"/>
<rect x="1592" y="224" width="6" height="6" fill="#0000ff"/>
<rect x="1594" y="226" width="2" height="2" fill="#ffffff"/>
<rect x="1598" y="226" width="1" height="2" fill="#0000ff"/>
<rect x="5" y="279" width="6" height="6" fill="#0000ff"/>
<rect x="7" y="281" width="2" height="2" fill="#ffffff"/>
<rect x="1592" y="279" width="6" height="6" fill="#0000ff"/>
<rect x="1594" y="281" width="2" height="2" fill="#ffffff"/>
<rect x="1598" y="281" width="1" height="2" fill="#0000ff"/>
<path d="M9,33 L16,33 L12.5,36.5 Z" fill="#000"/>
<text x="21.7" y="38" font-size="10.2" fill="#000" text-anchor="start" textLength="64.7" lengthAdjust="spacingAndGlyphs" stroke="#000" stroke-width="0.2">AUDUSD,Daily</text>
<text x="93" y="38" font-size="10.2" fill="#000" text-anchor="start" textLength="140" lengthAdjust="spacingAndGlyphs" stroke="#000" stroke-width="0.2">0.76838 0.77090 0.76749 0.77072</text>
<rect x="1599" y="39" width="3" height="1" fill="#000"/>
<text x="1604" y="43" font-size="10.2" fill="#000" text-anchor="start" textLength="32.53" lengthAdjust="spacingAndGlyphs" stroke="#000" stroke-width="0.2">0.78415</text>
<rect x="1599" y="72" width="3" height="1" fill="#000"/>
<text x="1604" y="76" font-size="10.2" fill="#000" text-anchor="start" textLength="32.53" lengthAdjust="spacingAndGlyphs" stroke="#000" stroke-width="0.2">0.77815</text>
<rect x="1599" y="105" width="3" height="1" fill="#000"/>
<text x="1604" y="109" font-size="10.2" fill="#000" text-anchor="start" textLength="32.53" lengthAdjust="spacingAndGlyphs" stroke="#000" stroke-width="0.2">0.77230</text>
<rect x="1599" y="138" width="3" height="1" fill="#000"/>
<text x="1604" y="142" font-size="10.2" fill="#000" text-anchor="start" textLength="32.53" lengthAdjust="spacingAndGlyphs" stroke="#000" stroke-width="0.2">0.76630</text>
<rect x="1599" y="171" width="3" height="1" fill="#000"/>
<text x="1604" y="175" font-size="10.2" fill="#000" text-anchor="start" textLength="32.53" lengthAdjust="spacingAndGlyphs" stroke="#000" stroke-width="0.2">0.76030</text>
<rect x="1599" y="204" width="3" height="1" fill="#000"/>
<text x="1604" y="208" font-size="10.2" fill="#000" text-anchor="start" textLength="32.53" lengthAdjust="spacingAndGlyphs" stroke="#000" stroke-width="0.2">0.75430</text>
<rect x="1599" y="237" width="3" height="1" fill="#000"/>
<text x="1604" y="241" font-size="10.2" fill="#000" text-anchor="start" textLength="32.53" lengthAdjust="spacingAndGlyphs" stroke="#000" stroke-width="0.2">0.74830</text>
<rect x="1599" y="270" width="3" height="1" fill="#000"/>
<text x="1604" y="274" font-size="10.2" fill="#000" text-anchor="start" textLength="32.53" lengthAdjust="spacingAndGlyphs" stroke="#000" stroke-width="0.2">0.74230</text>
<rect x="1599" y="303" width="3" height="1" fill="#000"/>
<text x="1604" y="307" font-size="10.2" fill="#000" text-anchor="start" textLength="32.53" lengthAdjust="spacingAndGlyphs" stroke="#000" stroke-width="0.2">0.73630</text>
<rect x="1599" y="336" width="3" height="1" fill="#000"/>
<text x="1604" y="340" font-size="10.2" fill="#000" text-anchor="start" textLength="32.53" lengthAdjust="spacingAndGlyphs" stroke="#000" stroke-width="0.2">0.73030</text>
<rect x="1599" y="369" width="3" height="1" fill="#000"/>
<text x="1604" y="373" font-size="10.2" fill="#000" text-anchor="start" textLength="32.53" lengthAdjust="spacingAndGlyphs" stroke="#000" stroke-width="0.2">0.72430</text>
<rect x="1599" y="402" width="3" height="1" fill="#000"/>
<text x="1604" y="406" font-size="10.2" fill="#000" text-anchor="start" textLength="32.53" lengthAdjust="spacingAndGlyphs" stroke="#000" stroke-width="0.2">0.71830</text>
<rect x="1599" y="435" width="3" height="1" fill="#000"/>
<text x="1604" y="439" font-size="10.2" fill="#000" text-anchor="start" textLength="32.53" lengthAdjust="spacingAndGlyphs" stroke="#000" stroke-width="0.2">0.71245</text>
<rect x="1599" y="468" width="3" height="1" fill="#000"/>
<text x="1604" y="472" font-size="10.2" fill="#000" text-anchor="start" textLength="32.53" lengthAdjust="spacingAndGlyphs" stroke="#000" stroke-width="0.2">0.70645</text>
<rect x="1599" y="501" width="3" height="1" fill="#000"/>
<text x="1604" y="505" font-size="10.2" fill="#000" text-anchor="start" textLength="32.53" lengthAdjust="spacingAndGlyphs" stroke="#000" stroke-width="0.2">0.70045</text>
<rect x="1599" y="534" width="3" height="1" fill="#000"/>
<text x="1604" y="538" font-size="10.2" fill="#000" text-anchor="start" textLength="32.53" lengthAdjust="spacingAndGlyphs" stroke="#000" stroke-width="0.2">0.69445</text>
<rect x="1600" y="108" width="38" height="11" fill="#000000"/>
<text x="1604" y="117" font-size="10.2" fill="#ffffff" text-anchor="start" textLength="32.53" lengthAdjust="spacingAndGlyphs" stroke="#ffffff" stroke-width="0.2">0.77072</text>
<rect x="1600" y="56" width="38" height="11" fill="#ff0000"/>
<text x="1604" y="65" font-size="10.2" fill="#ffffff" text-anchor="start" textLength="32.53" lengthAdjust="spacingAndGlyphs" stroke="#ffffff" stroke-width="0.2">0.78007</text>
<rect x="1600" y="111" width="38" height="11" fill="#00ff00"/>
<text x="1604" y="120" font-size="10.2" fill="#ffffff" text-anchor="start" textLength="32.53" lengthAdjust="spacingAndGlyphs" stroke="#ffffff" stroke-width="0.2">0.77008</text>
<rect x="1600" y="166" width="38" height="11" fill="#0000ff"/>
<text x="1604" y="175" font-size="10.2" fill="#ffffff" text-anchor="start" textLength="32.53" lengthAdjust="spacingAndGlyphs" stroke="#ffffff" stroke-width="0.2">0.76009</text>
<rect x="1600" y="221" width="38" height="11" fill="#0000ff"/>
<text x="1604" y="230" font-size="10.2" fill="#ffffff" text-anchor="start" textLength="32.53" lengthAdjust="spacingAndGlyphs" stroke="#ffffff" stroke-width="0.2">0.75010</text>
<rect x="1600" y="276" width="38" height="11" fill="#0000ff"/>
<text x="1604" y="285" font-size="10.2" fill="#ffffff" text-anchor="start" textLength="31.86" lengthAdjust="spacingAndGlyphs" stroke="#ffffff" stroke-width="0.2">0.74011</text>
<g clip-path="url(#cr)">
<line x1="7" y1="568.5" x2="1597" y2="568.5" stroke="#c0c0c0" stroke-width="1" stroke-dasharray="3,3" shape-rendering="crispEdges"/>
<line x1="7" y1="604.5" x2="1597" y2="604.5" stroke="#c0c0c0" stroke-width="1" stroke-dasharray="3,3" shape-rendering="crispEdges"/>
<polyline points="6.5,574.60 14.5,573.91 22.5,573.22 30.5,563.45 38.5,561.27 46.5,563.12 54.5,570.80 62.5,571.20 70.5,568.39 78.5,565.79 86.5,565.60 94.5,570.72 102.5,569.38 110.5,571.35 118.5,577.24 126.5,574.62 134.5,568.80 142.5,567.60 150.5,576.90 158.5,579.03 166.5,578.33 174.5,579.14 182.5,577.56 190.5,579.19 198.5,578.51 206.5,577.04 214.5,573.04 222.5,570.60 230.5,570.60 238.5,580.36 246.5,583.11 254.5,582.46 262.5,581.09 270.5,580.20 278.5,574.74 286.5,570.81 294.5,564.22 302.5,564.02 310.5,562.16 318.5,564.47 326.5,573.38 334.5,580.75 342.5,581.15 350.5,578.08 358.5,580.27 366.5,586.68 374.5,582.32 382.5,580.98 390.5,581.98 398.5,582.10 406.5,579.48 414.5,579.98 422.5,576.18 430.5,582.13 438.5,580.37 446.5,582.05 454.5,591.94 462.5,595.75 470.5,601.59 478.5,604.82 486.5,606.16 494.5,604.71 502.5,599.16 510.5,594.41 518.5,588.80 526.5,586.32 534.5,589.92 542.5,588.33 550.5,586.50 558.5,589.30 566.5,590.19 574.5,588.04 582.5,580.46 590.5,580.76 598.5,583.78 606.5,588.15 614.5,587.38 622.5,595.86 630.5,595.43 638.5,595.02 646.5,594.40 654.5,597.48 662.5,589.45 670.5,590.38 678.5,589.35 686.5,587.40 694.5,589.12 702.5,586.17 710.5,594.00 718.5,599.02 726.5,597.31 734.5,596.29 742.5,595.27 750.5,581.58 758.5,581.44 766.5,573.49 774.5,573.43 782.5,573.54 790.5,571.50 798.5,574.91 806.5,575.63 814.5,576.17 822.5,578.34 830.5,576.73 838.5,571.96 846.5,574.29 854.5,572.71 862.5,580.03 870.5,576.44 878.5,576.62 886.5,581.05 894.5,575.50 902.5,574.37 910.5,573.42 918.5,570.80 926.5,571.90 934.5,575.29 942.5,577.27 950.5,574.61 958.5,569.66 966.5,571.35 974.5,570.78 982.5,570.55 990.5,575.51 998.5,571.43 1006.5,567.28 1014.5,565.87 1022.5,565.81 1030.5,565.81 1038.5,565.67 1046.5,563.68 1054.5,560.63 1062.5,561.84 1070.5,561.82 1078.5,572.52 1086.5,579.04 1094.5,573.74 1102.5,572.19 1110.5,572.48 1118.5,576.90 1126.5,572.93 1134.5,567.88 1142.5,565.55 1150.5,569.23 1158.5,570.48 1166.5,567.58 1174.5,565.47 1182.5,568.38 1190.5,566.53 1198.5,570.75 1206.5,578.05 1214.5,576.33 1222.5,575.13 1230.5,572.39 1238.5,581.07 1246.5,580.53 1254.5,583.19 1262.5,581.06" fill="none" stroke="#1e90ff" stroke-width="1"/>
</g>
<text x="10.4" y="552" font-size="10.2" fill="#000" text-anchor="start" textLength="67.4" lengthAdjust="spacingAndGlyphs" stroke="#000" stroke-width="0.2">RSI(14) 55.9652</text>
<text x="1602.3" y="550" font-size="10.2" fill="#000" text-anchor="start" textLength="15.01" lengthAdjust="spacingAndGlyphs" stroke="#000" stroke-width="0.2">100</text>
<text x="1602.3" y="572" font-size="10.2" fill="#000" text-anchor="start" textLength="10.01" lengthAdjust="spacingAndGlyphs" stroke="#000" stroke-width="0.2">70</text>
<text x="1602.3" y="608" font-size="10.2" fill="#000" text-anchor="start" textLength="10.01" lengthAdjust="spacingAndGlyphs" stroke="#000" stroke-width="0.2">30</text>
<text x="1602.3" y="629" font-size="10.2" fill="#000" text-anchor="start" textLength="5.0" lengthAdjust="spacingAndGlyphs" stroke="#000" stroke-width="0.2">0</text>
<rect x="1599" y="541" width="2" height="1" fill="#000"/>
<rect x="1599" y="568" width="2" height="1" fill="#000"/>
<rect x="1599" y="604" width="2" height="1" fill="#000"/>
<rect x="1599" y="630" width="2" height="1" fill="#000"/>
<g clip-path="url(#cd)" shape-rendering="crispEdges">
<rect x="6" y="665" width="1" height="27" fill="#c0c0c0"/>
<rect x="14" y="667" width="1" height="25" fill="#c0c0c0"/>
<rect x="22" y="667" width="1" height="25" fill="#c0c0c0"/>
<rect x="30" y="662" width="1" height="30" fill="#c0c0c0"/>
<rect x="38" y="657" width="1" height="35" fill="#c0c0c0"/>
<rect x="46" y="654" width="1" height="38" fill="#c0c0c0"/>
<rect x="54" y="654" width="1" height="38" fill="#c0c0c0"/>
<rect x="62" y="654" width="1" height="38" fill="#c0c0c0"/>
<rect x="70" y="653" width="1" height="39" fill="#c0c0c0"/>
<rect x="78" y="651" width="1" height="41" fill="#c0c0c0"/>
<rect x="86" y="650" width="1" height="42" fill="#c0c0c0"/>
<rect x="94" y="651" width="1" height="41" fill="#c0c0c0"/>
<rect x="102" y="652" width="1" height="40" fill="#c0c0c0"/>
<rect x="110" y="652" width="1" height="40" fill="#c0c0c0"/>
<rect x="118" y="656" width="1" height="36" fill="#c0c0c0"/>
<rect x="126" y="657" width="1" height="35" fill="#c0c0c0"/>
<rect x="134" y="655" width="1" height="37" fill="#c0c0c0"/>
<rect x="142" y="653" width="1" height="39" fill="#c0c0c0"/>
<rect x="150" y="655" width="1" height="37" fill="#c0c0c0"/>
<rect x="158" y="658" width="1" height="34" fill="#c0c0c0"/>
<rect x="166" y="660" width="1" height="32" fill="#c0c0c0"/>
<rect x="174" y="662" width="1" height="30" fill="#c0c0c0"/>
<rect x="182" y="664" width="1" height="28" fill="#c0c0c0"/>
<rect x="190" y="665" width="1" height="27" fill="#c0c0c0"/>
<rect x="198" y="667" width="1" height="25" fill="#c0c0c0"/>
<rect x="206" y="668" width="1" height="24" fill="#c0c0c0"/>
<rect x="214" y="667" width="1" height="25" fill="#c0c0c0"/>
<rect x="222" y="666" width="1" height="26" fill="#c0c0c0"/>
<rect x="230" y="665" width="1" height="27" fill="#c0c0c0"/>
<rect x="238" y="667" width="1" height="25" fill="#c0c0c0"/>
<rect x="246" y="671" width="1" height="21" fill="#c0c0c0"/>
<rect x="254" y="673" width="1" height="19" fill="#c0c0c0"/>
<rect x="262" y="675" width="1" height="17" fill="#c0c0c0"/>
<rect x="270" y="676" width="1" height="16" fill="#c0c0c0"/>
<rect x="278" y="675" width="1" height="17" fill="#c0c0c0"/>
<rect x="286" y="672" width="1" height="20" fill="#c0c0c0"/>
<rect x="294" y="666" width="1" height="26" fill="#c0c0c0"/>
<rect x="302" y="661" width="1" height="31" fill="#c0c0c0"/>
<rect x="310" y="656" width="1" height="36" fill="#c0c0c0"/>
<rect x="318" y="653" width="1" height="39" fill="#c0c0c0"/>
<rect x="326" y="654" width="1" height="38" fill="#c0c0c0"/>
<rect x="334" y="658" width="1" height="34" fill="#c0c0c0"/>
<rect x="342" y="662" width="1" height="30" fill="#c0c0c0"/>
<rect x="350" y="663" width="1" height="29" fill="#c0c0c0"/>
<rect x="358" y="665" width="1" height="27" fill="#c0c0c0"/>
<rect x="366" y="670" width="1" height="22" fill="#c0c0c0"/>
<rect x="374" y="671" width="1" height="21" fill="#c0c0c0"/>
<rect x="382" y="672" width="1" height="20" fill="#c0c0c0"/>
<rect x="390" y="674" width="1" height="18" fill="#c0c0c0"/>
<rect x="398" y="675" width="1" height="17" fill="#c0c0c0"/>
<rect x="406" y="675" width="1" height="17" fill="#c0c0c0"/>
<rect x="414" y="676" width="1" height="16" fill="#c0c0c0"/>
<rect x="422" y="674" width="1" height="18" fill="#c0c0c0"/>
<rect x="430" y="676" width="1" height="16" fill="#c0c0c0"/>
<rect x="438" y="675" width="1" height="17" fill="#c0c0c0"/>
<rect x="446" y="677" width="1" height="15" fill="#c0c0c0"/>
<rect x="454" y="682" width="1" height="10" fill="#c0c0c0"/>
<rect x="462" y="688" width="1" height="4" fill="#c0c0c0"/>
<rect x="470" y="691" width="1" height="6" fill="#c0c0c0"/>
<rect x="478" y="691" width="1" height="14" fill="#c0c0c0"/>
<rect x="486" y="691" width="1" height="24" fill="#c0c0c0"/>
<rect x="494" y="691" width="1" height="30" fill="#c0c0c0"/>
<rect x="502" y="691" width="1" height="32" fill="#c0c0c0"/>
<rect x="510" y="691" width="1" height="32" fill="#c0c0c0"/>
<rect x="518" y="691" width="1" height="28" fill="#c0c0c0"/>
<rect x="526" y="691" width="1" height="24" fill="#c0c0c0"/>
<rect x="534" y="691" width="1" height="22" fill="#c0c0c0"/>
<rect x="542" y="691" width="1" height="20" fill="#c0c0c0"/>
<rect x="550" y="691" width="1" height="17" fill="#c0c0c0"/>
<rect x="558" y="691" width="1" height="16" fill="#c0c0c0"/>
<rect x="566" y="691" width="1" height="16" fill="#c0c0c0"/>
<rect x="574" y="691" width="1" height="14" fill="#c0c0c0"/>
<rect x="582" y="691" width="1" height="8" fill="#c0c0c0"/>
<rect x="590" y="691" width="1" height="4" fill="#c0c0c0"/>
<rect x="598" y="691" width="1" height="1" fill="#c0c0c0"/>
<rect x="606" y="691" width="1" height="3" fill="#c0c0c0"/>
<rect x="614" y="691" width="1" height="3" fill="#c0c0c0"/>
<rect x="622" y="691" width="1" height="8" fill="#c0c0c0"/>
<rect x="630" y="691" width="1" height="12" fill="#c0c0c0"/>
<rect x="638" y="691" width="1" height="14" fill="#c0c0c0"/>
<rect x="646" y="691" width="1" height="16" fill="#c0c0c0"/>
<rect x="654" y="691" width="1" height="18" fill="#c0c0c0"/>
<rect x="662" y="691" width="1" height="16" fill="#c0c0c0"/>
<rect x="670" y="691" width="1" height="16" fill="#c0c0c0"/>
<rect x="678" y="691" width="1" height="14" fill="#c0c0c0"/>
<rect x="686" y="691" width="1" height="14" fill="#c0c0c0"/>
<rect x="694" y="691" width="1" height="12" fill="#c0c0c0"/>
<rect x="702" y="691" width="1" height="10" fill="#c0c0c0"/>
<rect x="710" y="691" width="1" height="12" fill="#c0c0c0"/>
<rect x="718" y="691" width="1" height="18" fill="#c0c0c0"/>
<rect x="726" y="691" width="1" height="20" fill="#c0c0c0"/>
<rect x="734" y="691" width="1" height="22" fill="#c0c0c0"/>
<rect x="742" y="691" width="1" height="22" fill="#c0c0c0"/>
<rect x="750" y="691" width="1" height="16" fill="#c0c0c0"/>
<rect x="758" y="691" width="1" height="10" fill="#c0c0c0"/>
<rect x="766" y="691" width="1" height="1" fill="#c0c0c0"/>
<rect x="774" y="685" width="1" height="7" fill="#c0c0c0"/>
<rect x="782" y="680" width="1" height="12" fill="#c0c0c0"/>
<rect x="790" y="674" width="1" height="18" fill="#c0c0c0"/>
<rect x="798" y="671" width="1" height="21" fill="#c0c0c0"/>
<rect x="806" y="669" width="1" height="23" fill="#c0c0c0"/>
<rect x="814" y="668" width="1" height="24" fill="#c0c0c0"/>
<rect x="822" y="669" width="1" height="23" fill="#c0c0c0"/>
<rect x="830" y="668" width="1" height="24" fill="#c0c0c0"/>
<rect x="838" y="665" width="1" height="27" fill="#c0c0c0"/>
<rect x="846" y="664" width="1" height="28" fill="#c0c0c0"/>
<rect x="854" y="663" width="1" height="29" fill="#c0c0c0"/>
<rect x="862" y="664" width="1" height="28" fill="#c0c0c0"/>
<rect x="870" y="664" width="1" height="28" fill="#c0c0c0"/>
<rect x="878" y="665" width="1" height="27" fill="#c0c0c0"/>
<rect x="886" y="666" width="1" height="26" fill="#c0c0c0"/>
<rect x="894" y="664" width="1" height="28" fill="#c0c0c0"/>
<rect x="902" y="663" width="1" height="29" fill="#c0c0c0"/>
<rect x="910" y="663" width="1" height="29" fill="#c0c0c0"/>
<rect x="918" y="660" width="1" height="32" fill="#c0c0c0"/>
<rect x="926" y="659" width="1" height="33" fill="#c0c0c0"/>
<rect x="934" y="660" width="1" height="32" fill="#c0c0c0"/>
<rect x="942" y="661" width="1" height="31" fill="#c0c0c0"/>
<rect x="950" y="661" width="1" height="31" fill="#c0c0c0"/>
<rect x="958" y="659" width="1" height="33" fill="#c0c0c0"/>
<rect x="966" y="658" width="1" height="34" fill="#c0c0c0"/>
<rect x="974" y="657" width="1" height="35" fill="#c0c0c0"/>
<rect x="982" y="656" width="1" height="36" fill="#c0c0c0"/>
<rect x="990" y="658" width="1" height="34" fill="#c0c0c0"/>
<rect x="998" y="658" width="1" height="34" fill="#c0c0c0"/>
<rect x="1006" y="654" width="1" height="38" fill="#c0c0c0"/>
<rect x="1014" y="651" width="1" height="41" fill="#c0c0c0"/>
<rect x="1022" y="650" width="1" height="42" fill="#c0c0c0"/>
<rect x="1030" y="649" width="1" height="43" fill="#c0c0c0"/>
<rect x="1038" y="648" width="1" height="44" fill="#c0c0c0"/>
<rect x="1046" y="647" width="1" height="45" fill="#c0c0c0"/>
<rect x="1054" y="644" width="1" height="48" fill="#c0c0c0"/>
<rect x="1062" y="643" width="1" height="49" fill="#c0c0c0"/>
<rect x="1070" y="642" width="1" height="50" fill="#c0c0c0"/>
<rect x="1078" y="646" width="1" height="46" fill="#c0c0c0"/>
<rect x="1086" y="649" width="1" height="43" fill="#c0c0c0"/>
<rect x="1094" y="651" width="1" height="41" fill="#c0c0c0"/>
<rect x="1102" y="651" width="1" height="41" fill="#c0c0c0"/>
<rect x="1110" y="652" width="1" height="40" fill="#c0c0c0"/>
<rect x="1118" y="655" width="1" height="37" fill="#c0c0c0"/>
<rect x="1126" y="655" width="1" height="37" fill="#c0c0c0"/>
<rect x="1134" y="652" width="1" height="40" fill="#c0c0c0"/>
<rect x="1142" y="648" width="1" height="44" fill="#c0c0c0"/>
<rect x="1150" y="647" width="1" height="45" fill="#c0c0c0"/>
<rect x="1158" y="647" width="1" height="45" fill="#c0c0c0"/>
<rect x="1166" y="646" width="1" height="46" fill="#c0c0c0"/>
<rect x="1174" y="643" width="1" height="49" fill="#c0c0c0"/>
<rect x="1182" y="642" width="1" height="50" fill="#c0c0c0"/>
<rect x="1190" y="641" width="1" height="51" fill="#c0c0c0"/>
<rect x="1198" y="642" width="1" height="50" fill="#c0c0c0"/>
<rect x="1206" y="646" width="1" height="46" fill="#c0c0c0"/>
<rect x="1214" y="648" width="1" height="44" fill="#c0c0c0"/>
<rect x="1222" y="649" width="1" height="43" fill="#c0c0c0"/>
<rect x="1230" y="650" width="1" height="42" fill="#c0c0c0"/>
<rect x="1238" y="654" width="1" height="38" fill="#c0c0c0"/>
<rect x="1246" y="657" width="1" height="35" fill="#c0c0c0"/>
<rect x="1254" y="661" width="1" height="31" fill="#c0c0c0"/>
<rect x="1262" y="663" width="1" height="29" fill="#c0c0c0"/>
<polyline points="6.5,665.20 14.5,665.20 22.5,665.20 30.5,665.20 38.5,663.87 46.5,662.53 54.5,661.20 62.5,660.20 70.5,658.60 78.5,657.20 86.5,655.20 94.5,653.20 102.5,652.10 110.5,651.50 118.5,652.10 126.5,652.24 134.5,652.38 142.5,652.51 150.5,652.61 158.5,652.89 166.5,654.41 174.5,655.02 182.5,656.50 190.5,658.07 198.5,658.80 206.5,660.35 214.5,661.87 222.5,663.06 230.5,664.25 238.5,665.63 246.5,666.48 254.5,667.33 262.5,668.71 270.5,669.20 278.5,669.70 286.5,670.30 294.5,670.30 302.5,670.30 310.5,667.96 318.5,666.65 326.5,664.29 334.5,662.61 342.5,660.72 350.5,659.20 358.5,659.20 366.5,659.20 374.5,660.14 382.5,661.68 390.5,664.05 398.5,667.63 406.5,668.84 414.5,670.04 422.5,672.12 430.5,673.02 438.5,673.56 446.5,674.12 454.5,675.70 462.5,677.29 470.5,679.12 478.5,682.89 486.5,687.20 494.5,691.90 502.5,696.99 510.5,702.53 518.5,707.53 526.5,711.30 534.5,713.71 542.5,714.69 550.5,714.85 558.5,714.93 566.5,713.15 574.5,711.07 582.5,708.08 590.5,705.48 598.5,703.50 606.5,701.52 614.5,700.05 622.5,699.12 630.5,698.51 638.5,698.18 646.5,698.30 654.5,699.07 662.5,701.28 670.5,702.94 678.5,704.54 686.5,704.74 694.5,704.93 702.5,705.10 710.5,705.27 718.5,705.44 726.5,705.77 734.5,706.10 742.5,706.10 750.5,706.10 758.5,706.10 766.5,704.79 774.5,703.12 782.5,700.01 790.5,696.04 798.5,691.96 806.5,687.99 814.5,681.44 822.5,677.79 830.5,673.53 838.5,671.92 846.5,669.60 854.5,667.60 862.5,666.36 870.5,665.47 878.5,664.88 886.5,664.39 894.5,663.99 902.5,663.60 910.5,663.40 918.5,663.20 926.5,662.64 934.5,662.09 942.5,661.66 950.5,661.36 958.5,660.96 966.5,660.45 974.5,659.41 982.5,658.20 990.5,658.20 998.5,658.20 1006.5,657.43 1014.5,656.40 1022.5,655.27 1030.5,652.88 1038.5,651.71 1046.5,651.14 1054.5,649.74 1062.5,648.29 1070.5,646.96 1078.5,645.31 1086.5,645.10 1094.5,645.10 1102.5,646.54 1110.5,646.84 1118.5,647.31 1126.5,648.74 1134.5,649.42 1142.5,649.97 1150.5,650.42 1158.5,650.28 1166.5,649.67 1174.5,648.31 1182.5,647.17 1190.5,646.02 1198.5,644.50 1206.5,644.50 1214.5,644.50 1222.5,644.50 1230.5,644.50 1238.5,645.50 1246.5,647.17 1254.5,648.50 1262.5,651.40" fill="none" stroke="#ff0000" stroke-width="1" stroke-dasharray="3,3"/>
</g>
<text x="10.4" y="647" font-size="10.2" fill="#000" text-anchor="start" textLength="147.8" lengthAdjust="spacingAndGlyphs" stroke="#000" stroke-width="0.2">MACD(12,26,9) 0.004559 0.006348</text>
<text x="1602" y="645" font-size="10.2" fill="#000" text-anchor="start" textLength="32.53" lengthAdjust="spacingAndGlyphs" stroke="#000" stroke-width="0.2">0.00884</text>
<text x="1602" y="695" font-size="10.2" fill="#000" text-anchor="start" textLength="17.51" lengthAdjust="spacingAndGlyphs" stroke="#000" stroke-width="0.2">0.00</text>
<text x="1602" y="724" font-size="10.2" fill="#000" text-anchor="start" textLength="35.53" lengthAdjust="spacingAndGlyphs" stroke="#000" stroke-width="0.2">-0.00565</text>
<rect x="1599" y="636" width="2" height="1" fill="#000"/>
<rect x="1599" y="691" width="2" height="1" fill="#000"/>
<rect x="1599" y="725" width="2" height="1" fill="#000"/>
<rect x="6" y="728" width="1" height="3" fill="#000"/>
<text x="5.6" y="740" font-size="10.2" fill="#000" text-anchor="start" textLength="46.53" lengthAdjust="spacingAndGlyphs" stroke="#000" stroke-width="0.2">17 Jul 2020</text>
<rect x="70" y="728" width="1" height="3" fill="#000"/>
<text x="69.6" y="740" font-size="10.2" fill="#000" text-anchor="start" textLength="46.53" lengthAdjust="spacingAndGlyphs" stroke="#000" stroke-width="0.2">27 Jul 2020</text>
<rect x="134" y="728" width="1" height="3" fill="#000"/>
<text x="133.6" y="740" font-size="10.2" fill="#000" text-anchor="start" textLength="45.54" lengthAdjust="spacingAndGlyphs" stroke="#000" stroke-width="0.2">5 Aug 2020</text>
<rect x="198" y="728" width="1" height="3" fill="#000"/>
<text x="197.6" y="740" font-size="10.2" fill="#000" text-anchor="start" textLength="50.55" lengthAdjust="spacingAndGlyphs" stroke="#000" stroke-width="0.2">14 Aug 2020</text>
<rect x="262" y="728" width="1" height="3" fill="#000"/>
<text x="261.6" y="740" font-size="10.2" fill="#000" text-anchor="start" textLength="50.55" lengthAdjust="spacingAndGlyphs" stroke="#000" stroke-width="0.2">24 Aug 2020</text>
<rect x="326" y="728" width="1" height="3" fill="#000"/>
<text x="325.6" y="740" font-size="10.2" fill="#000" text-anchor="start" textLength="46.04" lengthAdjust="spacingAndGlyphs" stroke="#000" stroke-width="0.2">2 Sep 2020</text>
<rect x="390" y="728" width="1" height="3" fill="#000"/>
<text x="389.6" y="740" font-size="10.2" fill="#000" text-anchor="start" textLength="50.37" lengthAdjust="spacingAndGlyphs" stroke="#000" stroke-width="0.2">11 Sep 2020</text>
<rect x="454" y="728" width="1" height="3" fill="#000"/>
<text x="453.6" y="740" font-size="10.2" fill="#000" text-anchor="start" textLength="51.04" lengthAdjust="spacingAndGlyphs" stroke="#000" stroke-width="0.2">21 Sep 2020</text>
<rect x="518" y="728" width="1" height="3" fill="#000"/>
<text x="517.6" y="740" font-size="10.2" fill="#000" text-anchor="start" textLength="51.04" lengthAdjust="spacingAndGlyphs" stroke="#000" stroke-width="0.2">30 Sep 2020</text>
<rect x="582" y="728" width="1" height="3" fill="#000"/>
<text x="581.6" y="740" font-size="10.2" fill="#000" text-anchor="start" textLength="44.03" lengthAdjust="spacingAndGlyphs" stroke="#000" stroke-width="0.2">9 Oct 2020</text>
<rect x="646" y="728" width="1" height="3" fill="#000"/>
<text x="645.6" y="740" font-size="10.2" fill="#000" text-anchor="start" textLength="49.03" lengthAdjust="spacingAndGlyphs" stroke="#000" stroke-width="0.2">19 Oct 2020</text>
<rect x="710" y="728" width="1" height="3" fill="#000"/>
<text x="709.6" y="740" font-size="10.2" fill="#000" text-anchor="start" textLength="49.03" lengthAdjust="spacingAndGlyphs" stroke="#000" stroke-width="0.2">28 Oct 2020</text>
<rect x="774" y="728" width="1" height="3" fill="#000"/>
<text x="773.6" y="740" font-size="10.2" fill="#000" text-anchor="start" textLength="46.03" lengthAdjust="spacingAndGlyphs" stroke="#000" stroke-width="0.2">6 Nov 2020</text>
<rect x="838" y="728" width="1" height="3" fill="#000"/>
<text x="837.6" y="740" font-size="10.2" fill="#000" text-anchor="start" textLength="51.03" lengthAdjust="spacingAndGlyphs" stroke="#000" stroke-width="0.2">16 Nov 2020</text>
<rect x="902" y="728" width="1" height="3" fill="#000"/>
<text x="901.6" y="740" font-size="10.2" fill="#000" text-anchor="start" textLength="51.03" lengthAdjust="spacingAndGlyphs" stroke="#000" stroke-width="0.2">25 Nov 2020</text>
<rect x="966" y="728" width="1" height="3" fill="#000"/>
<text x="965.6" y="740" font-size="10.2" fill="#000" text-anchor="start" textLength="46.03" lengthAdjust="spacingAndGlyphs" stroke="#000" stroke-width="0.2">4 Dec 2020</text>
<rect x="1030" y="728" width="1" height="3" fill="#000"/>
<text x="1029.6" y="740" font-size="10.2" fill="#000" text-anchor="start" textLength="51.03" lengthAdjust="spacingAndGlyphs" stroke="#000" stroke-width="0.2">14 Dec 2020</text>
<rect x="1094" y="728" width="1" height="3" fill="#000"/>
<text x="1093.6" y="740" font-size="10.2" fill="#000" text-anchor="start" textLength="51.03" lengthAdjust="spacingAndGlyphs" stroke="#000" stroke-width="0.2">23 Dec 2020</text>
<rect x="1158" y="728" width="1" height="3" fill="#000"/>
<text x="1157.6" y="740" font-size="10.2" fill="#000" text-anchor="start" textLength="44.53" lengthAdjust="spacingAndGlyphs" stroke="#000" stroke-width="0.2">4 Jan 2021</text>
<rect x="1222" y="728" width="1" height="3" fill="#000"/>
<text x="1221.6" y="740" font-size="10.2" fill="#000" text-anchor="start" textLength="49.54" lengthAdjust="spacingAndGlyphs" stroke="#000" stroke-width="0.2">13 Jan 2021</text>
<rect x="3" y="748" width="1635" height="1" fill="#e6e6e6"/>
<rect x="0" y="750" width="1638" height="1" fill="#000"/>
<rect x="0" y="751" width="1638" height="1" fill="#ffffff"/>
<rect x="0" y="752" width="1638" height="19" fill="#f0f0f0"/>
<rect x="111" y="753" width="1" height="15" fill="#505050"/>
<rect x="419" y="753" width="1" height="15" fill="#505050"/>
<rect x="524" y="753" width="1" height="15" fill="#505050"/>
<rect x="627" y="753" width="1" height="15" fill="#505050"/>
<rect x="719" y="753" width="1" height="15" fill="#505050"/>
<rect x="812" y="753" width="1" height="15" fill="#505050"/>
<rect x="884" y="753" width="1" height="15" fill="#505050"/>
<rect x="963" y="753" width="1" height="15" fill="#505050"/>
<rect x="1043" y="753" width="1" height="15" fill="#505050"/>
<rect x="1123" y="753" width="1" height="15" fill="#505050"/>
<rect x="1199" y="753" width="1" height="15" fill="#505050"/>
<rect x="1299" y="753" width="1" height="15" fill="#505050"/>
<rect x="1383" y="753" width="1" height="15" fill="#505050"/>
<rect x="1463" y="753" width="1" height="15" fill="#505050"/>
<rect x="1564" y="753" width="1" height="15" fill="#505050"/>
<rect x="211" y="750" width="104" height="19" fill="#ffffff"/>
<rect x="211" y="750" width="1" height="19" fill="#000"/>
<rect x="314" y="750" width="1" height="19" fill="#000"/>
<rect x="211" y="768" width="104" height="1" fill="#000"/>
<rect x="315" y="751" width="1" height="19" fill="#b4b4b4"/>
<rect x="212" y="769" width="104" height="1" fill="#b4b4b4"/>
<rect x="0" y="770" width="1638" height="1" fill="#fafafa"/>
<rect x="2" y="751" width="1" height="18" fill="#808080"/>
<text x="19.1" y="765" font-size="12.3" fill="#5a5a5a" text-anchor="start" textLength="79.1" lengthAdjust="spacingAndGlyphs">EURUSD,Daily</text>
<text x="121.1" y="765" font-size="12.3" fill="#5a5a5a" text-anchor="start" textLength="78.1" lengthAdjust="spacingAndGlyphs">USDCHF,Daily</text>
<text x="221.9" y="765" font-size="12.3" fill="#000" text-anchor="start" textLength="81.4" lengthAdjust="spacingAndGlyphs">AUDUSD,Daily</text>
<text x="326.3" y="765" font-size="12.3" fill="#5a5a5a" text-anchor="start" textLength="80.3" lengthAdjust="spacingAndGlyphs">USDCAD,Daily</text>
<text x="428.8" y="765" font-size="12.3" fill="#5a5a5a" text-anchor="start" textLength="82.8" lengthAdjust="spacingAndGlyphs">USDCNH,Daily</text>
<text x="534.8000000000001" y="765" font-size="12.3" fill="#5a5a5a" text-anchor="start" textLength="79.3" lengthAdjust="spacingAndGlyphs">EURUSD,Daily</text>
<text x="638.7" y="765" font-size="12.3" fill="#5a5a5a" text-anchor="start" textLength="67.7" lengthAdjust="spacingAndGlyphs">GBPUSD,H4</text>
<text x="729.6" y="765" font-size="12.3" fill="#5a5a5a" text-anchor="start" textLength="69" lengthAdjust="spacingAndGlyphs">XAUUSD,H4</text>
<text x="821.8000000000001" y="765" font-size="12.3" fill="#5a5a5a" text-anchor="start" textLength="49.6" lengthAdjust="spacingAndGlyphs">HK50,H1</text>
<text x="893.6" y="765" font-size="12.3" fill="#5a5a5a" text-anchor="start" textLength="56.4" lengthAdjust="spacingAndGlyphs">UK100,H1</text>
<text x="974.0" y="765" font-size="12.3" fill="#5a5a5a" text-anchor="start" textLength="56.4" lengthAdjust="spacingAndGlyphs">UK100,H1</text>
<text x="1054.3" y="765" font-size="12.3" fill="#5a5a5a" text-anchor="start" textLength="55.7" lengthAdjust="spacingAndGlyphs">GER30,H1</text>
<text x="1132.8999999999999" y="765" font-size="12.3" fill="#5a5a5a" text-anchor="start" textLength="54.7" lengthAdjust="spacingAndGlyphs">FRA40,H1</text>
<text x="1209.8999999999999" y="765" font-size="12.3" fill="#5a5a5a" text-anchor="start" textLength="76.9" lengthAdjust="spacingAndGlyphs">USOil,Weekly</text>
<text x="1309.1" y="765" font-size="12.3" fill="#5a5a5a" text-anchor="start" textLength="62.3" lengthAdjust="spacingAndGlyphs">USDJPY,H1</text>
<text x="1392.8" y="765" font-size="12.3" fill="#5a5a5a" text-anchor="start" textLength="59.0" lengthAdjust="spacingAndGlyphs">DJ30,Daily</text>
<text x="1473.0" y="765" font-size="12.3" fill="#5a5a5a" text-anchor="start" textLength="78.1" lengthAdjust="spacingAndGlyphs">CHINA300,H1</text>
<text x="1572.8999999999999" y="765" font-size="12.3" fill="#5a5a5a" text-anchor="start" textLength="34.1" lengthAdjust="spacingAndGlyphs">USOil,</text>
<rect x="1609" y="751" width="29" height="18" fill="#f0f0f0"/>
<path d="M1617,755.5 L1613.5,759 L1617,762.5 Z" fill="#8a8a8a"/>
<path d="M1633,755.5 L1636.5,759 L1633,762.5 Z" fill="#000"/>
</svg>
</body></html>
